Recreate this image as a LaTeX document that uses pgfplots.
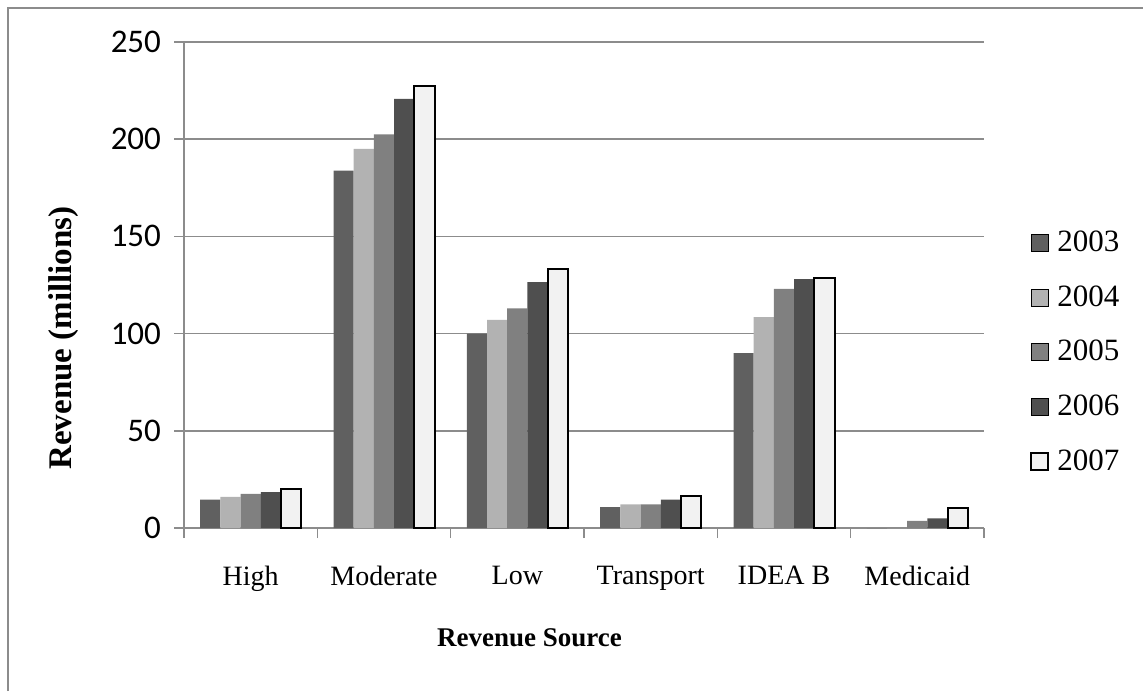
\documentclass[border=0pt]{standalone}
\usepackage{fontspec}
\setmainfont{Liberation Serif}
\newfontfamily\carlito{Carlito}
\usepackage{pgfplots}
\pgfplotsset{compat=1.18}

\definecolor{yA}{HTML}{606060}
\definecolor{yB}{HTML}{B2B2B2}
\definecolor{yC}{HTML}{808080}
\definecolor{yD}{HTML}{4F4F4F}
\definecolor{yE}{HTML}{F2F2F2}
\definecolor{gridgray}{HTML}{8C8C8C}

\begin{document}
\begin{tikzpicture}
\useasboundingbox (0,0) rectangle (571.5pt,345.5pt);
% outer chart frame (only top and left edges are visible)
\draw[gridgray, line width=0.75pt] (4pt,0pt) -- (4pt,341.5pt) -- (571.5pt,341.5pt);

\begin{axis}[
    at={(92pt,81.5pt)}, anchor=south west,
    scale only axis, width=400pt, height=243pt,
    ybar=0pt, bar width=10.1pt,
    xmin=-0.5, xmax=5.5,
    ymin=0, ymax=250,
    ytick={0,50,...,250},
    xtick={-0.5,0.5,...,5.5},
    xticklabels={},
    extra x ticks={0,1,2,3,4,5},
    extra x tick labels={High,Moderate,Low,Transport,IDEA B,Medicaid},
    extra x tick style={major tick length=0pt},
    axis x line=bottom, axis y line=left,
    axis line style={-, gridgray, line width=0.75pt},
    tick style={gridgray, line width=0.75pt},
    tick align=outside, major tick length=5pt,
    ymajorgrids=true,
    grid style={gridgray, line width=0.75pt},
    /pgf/number format/assume math mode=true,
    yticklabel style={font=\carlito\fontsize{16.5}{19}\selectfont, xshift=-3pt},
    xticklabel style={font=\rmfamily\fontsize{14}{17}\selectfont, yshift=-15.5pt},
    legend style={draw=none, fill=none, at={(1.05,0.362)}, anchor=west,
        font=\rmfamily\fontsize{15.5}{18}\selectfont, row sep=11.5pt,
        /tikz/every odd column/.append style={column sep=2pt}},
    legend cell align=left,
    legend image code/.code={\draw[#1] (0pt,-4.25pt) rectangle (8.5pt,4.25pt);},
]
\addplot[draw=none, fill=yA] coordinates {(0,14.6) (1,183.8) (2,100.0) (3,10.8) (4,90.0) (5,0)};
\addlegendentry{2003}
\addplot[draw=none, fill=yB] coordinates {(0,16.0) (1,195.0) (2,107.0) (3,12.2) (4,108.5) (5,0)};
\addlegendentry{2004}
\addplot[draw=none, fill=yC] coordinates {(0,17.5) (1,202.5) (2,113.0) (3,12.2) (4,123.0) (5,3.7)};
\addlegendentry{2005}
\addplot[draw=none, fill=yD] coordinates {(0,18.5) (1,220.7) (2,126.5) (3,14.6) (4,128.0) (5,5.0)};
\addlegendentry{2006}
\addplot[draw=black, line width=1pt, fill=yE] coordinates {(0,20.0) (1,227.5) (2,133.0) (3,16.5) (4,128.5) (5,10.2)};
\addlegendentry{2007}
\end{axis}

\node[font=\bfseries\fontsize{16.5}{19}\selectfont, rotate=90] at (32pt,176.5pt) {Revenue (millions)};
\node[font=\bfseries\fontsize{13.5}{16}\selectfont] at (264.75pt,26.5pt) {Revenue Source};
\end{tikzpicture}
\end{document}
